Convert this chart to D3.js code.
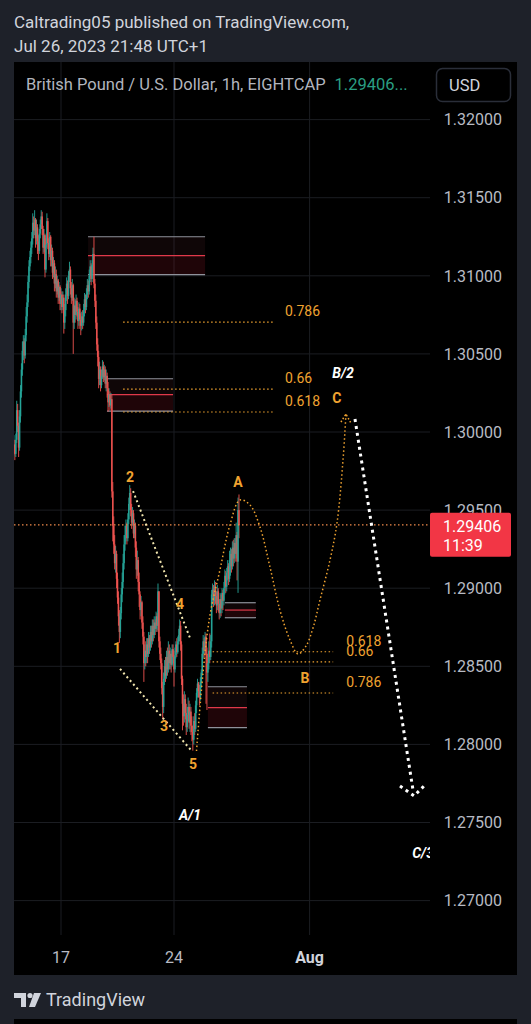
<!DOCTYPE html>
<html><head><meta charset="utf-8">
<script src="https://cdn.jsdelivr.net/npm/d3@7"></script>
<style>html,body{margin:0;padding:0;background:#1e2129;}svg{display:block}</style>
</head><body><svg id="c" width="531" height="1024"></svg>
<script>
// ---------------- data ----------------
const firstBar = -50;          // bar index of first candle (0 = Mon Jul 17 00:00)
const firstOpen = 1.2990;
const closes = [
1.2992,1.2986,1.2995,1.3014,1.3004,1.2990,1.3010,1.3026,1.3040,1.3052,
1.3058,1.3049,1.3062,1.3074,1.3083,1.3096,1.3106,1.3112,1.3118,1.3124,
1.3134,1.3129,1.3136,1.3124,1.3131,1.3122,1.3116,1.3127,1.3133,1.3138,
1.3130,1.3118,1.3126,1.3104,1.3120,1.3135,1.3121,1.3114,1.3125,1.3110,
1.3116,1.3102,1.3108,1.3095,1.3101,1.3090,1.3097,1.3086,1.3093,1.3082,
1.3088,1.3080,1.3086,1.3070,1.3078,1.3088,1.3095,1.3087,1.3100,1.3104,
1.3092,1.3086,1.3094,1.3070,1.3081,1.3075,1.3084,1.3077,1.3071,1.3079,
1.3072,1.3068,1.3074,1.3070,1.3078,1.3085,1.3080,1.3088,1.3094,1.3090,
1.3100,1.3106,1.3098,1.3107,1.3114,1.3095,1.3084,1.3070,1.3056,1.3048,
1.3034,1.3040,1.3030,1.3036,1.3042,1.3035,1.3040,1.3031,1.3036,1.3028,
1.3019,1.3024,1.3017,1.3021,1.2962,1.2940,1.2928,1.2916,1.2922,1.2906,
1.2894,1.2882,1.2872,1.2884,1.2896,1.2904,1.2916,1.2928,1.2934,1.2940,
1.2932,1.2944,1.2954,1.2961,1.2950,1.2942,1.2948,1.2935,1.2940,1.2926,
1.2912,1.2918,1.2904,1.2896,1.2886,1.2891,1.2878,1.2869,1.2852,1.2860,
1.2856,1.2864,1.2858,1.2868,1.2862,1.2872,1.2866,1.2876,1.2870,1.2878,
1.2874,1.2882,1.2876,1.2898,1.2866,1.2858,1.2852,1.2836,1.2824,1.2842,
1.2850,1.2844,1.2856,1.2848,1.2860,1.2852,1.2858,1.2851,1.2861,1.2856,
1.2848,1.2857,1.2864,1.2859,1.2866,1.2870,1.2876,1.2864,1.2842,1.2826,
1.2818,1.2829,1.2820,1.2811,1.2819,1.2824,1.2814,1.2821,1.2812,1.2808,
1.2803,1.2815,1.2810,1.2825,1.2833,1.2839,1.2834,1.2830,1.2840,1.2846,
1.2858,1.2866,1.2860,1.2869,1.2858,1.2846,1.2852,1.2860,1.2856,1.2866,
1.2896,1.2899,1.2892,1.2901,1.2895,1.2889,1.2898,1.2890,1.2884,1.2893,
1.2887,1.2897,1.2892,1.2900,1.2908,1.2901,1.2910,1.2914,1.2906,1.2918,
1.2922,1.2914,1.2926,1.2919,1.2929,1.2922,1.2934,1.2917,1.2950,1.29406];
const highs = [
1.2998,1.2995,1.2999,1.3020,1.3018,1.3006,1.3014,1.3030,1.3044,1.3058,
1.3062,1.3060,1.3066,1.3080,1.3088,1.3100,1.3110,1.3116,1.3122,1.3128,
1.3140,1.3138,1.3142,1.3137,1.3136,1.3133,1.3126,1.3130,1.3136,1.3142,
1.3141,1.3132,1.3130,1.3127,1.3124,1.3140,1.3137,1.3124,1.3128,1.3126,
1.3120,1.3118,1.3112,1.3110,1.3106,1.3104,1.3100,1.3098,1.3096,1.3094,
1.3092,1.3090,1.3090,1.3088,1.3082,1.3092,1.3099,1.3097,1.3103,1.3109,
1.3106,1.3096,1.3098,1.3095,1.3086,1.3085,1.3088,1.3086,1.3080,1.3083,
1.3082,1.3076,1.3077,1.3078,1.3082,1.3089,1.3088,1.3092,1.3098,1.3097,
1.3104,1.3110,1.3108,1.3110,1.3118,1.3125,1.3098,1.3088,1.3074,1.3060,
1.3052,1.3045,1.3042,1.3040,1.3046,1.3045,1.3043,1.3042,1.3040,1.3038,
1.3032,1.3028,1.3026,1.3025,1.3024,1.2968,1.2946,1.2934,1.2927,1.2924,
1.2910,1.2898,1.2886,1.2888,1.2900,1.2910,1.2922,1.2934,1.2940,1.2944,
1.2942,1.2948,1.2958,1.2966,1.2964,1.2954,1.2952,1.2950,1.2944,1.2942,
1.2930,1.2924,1.2920,1.2910,1.2898,1.2895,1.2892,1.2882,1.2872,1.2864,
1.2866,1.2868,1.2868,1.2872,1.2870,1.2876,1.2876,1.2880,1.2880,1.2882,
1.2880,1.2885,1.2884,1.2903,1.2898,1.2869,1.2862,1.2855,1.2840,1.2846,
1.2854,1.2856,1.2860,1.2862,1.2866,1.2864,1.2862,1.2860,1.2864,1.2864,
1.2860,1.2862,1.2866,1.2868,1.2869,1.2874,1.2880,1.2879,1.2866,1.2844,
1.2832,1.2834,1.2832,1.2826,1.2824,1.2830,1.2828,1.2826,1.2824,1.2818,
1.2812,1.2818,1.2820,1.2828,1.2836,1.2842,1.2840,1.2838,1.2843,1.2848,
1.2862,1.2870,1.2868,1.2872,1.2871,1.2862,1.2858,1.2866,1.2871,1.2870,
1.2899,1.2903,1.2902,1.2905,1.2904,1.2898,1.2902,1.2900,1.2893,1.2897,
1.2896,1.2900,1.2899,1.2904,1.2912,1.2911,1.2913,1.2918,1.2916,1.2924,
1.2926,1.2925,1.2930,1.2931,1.2932,1.2932,1.2942,1.2936,1.2958,1.2960];
const lows = [
1.2985,1.2982,1.2984,1.2993,1.3000,1.2984,1.2988,1.3006,1.3022,1.3036,
1.3046,1.3044,1.3047,1.3058,1.3070,1.3080,1.3092,1.3103,1.3108,1.3114,
1.3120,1.3124,1.3126,1.3118,1.3120,1.3114,1.3110,1.3114,1.3124,1.3130,
1.3126,1.3114,1.3115,1.3099,1.3102,1.3118,1.3117,1.3110,1.3112,1.3106,
1.3106,1.3098,1.3099,1.3090,1.3092,1.3086,1.3088,1.3082,1.3084,1.3078,
1.3078,1.3076,1.3078,1.3063,1.3066,1.3074,1.3084,1.3082,1.3085,1.3096,
1.3088,1.3082,1.3084,1.3050,1.3066,1.3070,1.3072,1.3074,1.3066,1.3068,
1.3066,1.3062,1.3065,1.3066,1.3068,1.3074,1.3076,1.3078,1.3085,1.3086,
1.3088,1.3096,1.3094,1.3096,1.3102,1.3092,1.3080,1.3066,1.3052,1.3042,
1.3028,1.3030,1.3026,1.3028,1.3034,1.3032,1.3033,1.3028,1.3026,1.3022,
1.3013,1.3016,1.3014,1.3015,1.2958,1.2930,1.2922,1.2912,1.2910,1.2900,
1.2890,1.2876,1.2865,1.2868,1.2880,1.2891,1.2900,1.2912,1.2924,1.2930,
1.2928,1.2930,1.2941,1.2950,1.2946,1.2938,1.2940,1.2932,1.2932,1.2920,
1.2906,1.2908,1.2898,1.2888,1.2880,1.2882,1.2874,1.2864,1.2840,1.2848,
1.2850,1.2852,1.2852,1.2856,1.2858,1.2860,1.2862,1.2864,1.2866,1.2868,
1.2870,1.2872,1.2872,1.2873,1.2862,1.2854,1.2848,1.2832,1.2816,1.2820,
1.2838,1.2840,1.2842,1.2844,1.2846,1.2848,1.2848,1.2846,1.2850,1.2852,
1.2837,1.2846,1.2855,1.2856,1.2858,1.2864,1.2866,1.2860,1.2838,1.2809,
1.2812,1.2814,1.2816,1.2806,1.2808,1.2815,1.2810,1.2808,1.2806,1.2802,
1.2796,1.2800,1.2806,1.2808,1.2820,1.2830,1.2830,1.2825,1.2828,1.2836,
1.2844,1.2855,1.2856,1.2858,1.2826,1.2822,1.2840,1.2848,1.2852,1.2854,
1.2862,1.2890,1.2888,1.2889,1.2890,1.2884,1.2886,1.2885,1.2880,1.2881,
1.2882,1.2884,1.2886,1.2889,1.2896,1.2897,1.2898,1.2905,1.2902,1.2904,
1.2908,1.2910,1.2912,1.2914,1.2916,1.2917,1.2919,1.2905,1.2897,1.2932];

const priceTicks = [1.27,1.275,1.28,1.285,1.29,1.295,1.30,1.305,1.31,1.315,1.32];
const timeTickBars = [0,120,264];
const timeTickLabels = ["17","24","Aug"];
const lastPrice = 1.29406;
const countdown = "11:39";

// zones: start bar, end bar, top, mid, bottom
const zoneStart = [28.7, 48.8, 174, 156];
const zoneEnd   = [153, 119, 207, 197.5];
const zoneTop   = [1.3125, 1.30341, 1.28907, 1.28369];
const zoneMid   = [1.31129, 1.30239, 1.2886, 1.28235];
const zoneBot   = [1.31007, 1.30134, 1.28811, 1.28107];

// fib retracements
const fibLabels = ["0.786","0.66","0.618"];
const upperFibPrices = [1.30704, 1.30275, 1.30128];
const upperFibBars = [66, 225];
const lowerFibLabels = ["0.618","0.66","0.786"];
const lowerFibPrices = [1.28593, 1.28528, 1.28329];
const lowerFibBars = [161, 289];

// wave labels
const waveText  = ["1","2","3","4","5","A","B","C"];
const waveBar   = [59.5, 73.3, 109.4, 126.4, 140.2, 188, 259, 293];
const wavePrice = [1.28617, 1.2971, 1.28118, 1.28899, 1.27875, 1.2968, 1.28425, 1.30218];
const degText  = ["B/2","A/1","C/3"];
const degBar   = [299.5, 137, 384.5];
const degPrice = [1.30378, 1.27548, 1.27305];

// channel lines (wave 2-4, wave 1-5)
const channel24Bars = [76.5, 137];  const channel24Prices = [1.29622, 1.28681];
const channel15Bars = [62.7, 138];  const channel15Prices = [1.28483, 1.27964];

// projected ABC path
const projBars = [143.9,150.8,158.2,168.8,179.4,190.0,200.7,211.3,221.9,232.5,243.2,251.7,260.2,267.6,275.0,285.7,293.1,299.5,302.6];
const projPrices = [1.27958,1.28457,1.28828,1.29117,1.29405,1.29565,1.29533,1.29392,1.29136,1.28860,1.28668,1.28579,1.28630,1.28745,1.28924,1.29181,1.29417,1.29821,1.30115];
const projArrowBars = [297.3, 302.6, 307.9]; const projArrowPrices = [1.30064, 1.30115, 1.30057];
// projected wave 3 drop
const dropBars = [312.2, 373.8]; const dropPrices = [1.30083, 1.27708];
const dropArrowBars = [360, 374.9, 386.5]; const dropArrowPrices = [1.27734, 1.2767, 1.2774];

// ---------------- drawing ----------------
const FONT = "Roboto, 'Noto Sans', sans-serif";
const svg = d3.select("#c");
const panel = {x0:14, x1:517, y0:62, y1:975};
const plot = {x0:14, x1:430, y0:62, y1:935};

const x = d3.scaleLinear().domain([0,120]).range([61,174]);
const y = d3.scaleLinear().domain([1.27,1.32]).range([900.6,119.6]);

svg.append("rect").attr("width",531).attr("height",1024).attr("fill","#1e2129");
svg.append("rect").attr("x",panel.x0).attr("y",panel.y0).attr("width",panel.x1-panel.x0).attr("height",panel.y1-panel.y0).attr("fill","#000");

// header
svg.append("text").attr("x",14).attr("y",28).attr("font-family",FONT).attr("font-size",17).attr("fill","#d1d4dc").text("Caltrading05 published on TradingView.com,");
svg.append("text").attr("x",14).attr("y",52).attr("font-family",FONT).attr("font-size",17).attr("fill","#d1d4dc").text("Jul 26, 2023 21:48 UTC+1");

svg.append("defs").append("clipPath").attr("id","plotclip").append("rect")
  .attr("x",plot.x0).attr("y",plot.y0).attr("width",plot.x1-plot.x0).attr("height",plot.y1-plot.y0);

const g = svg.append("g").attr("clip-path","url(#plotclip)");

// grid
const gridColor = "#1b1d22";
g.selectAll("line.hg").data(priceTicks).join("line").attr("class","hg")
  .attr("x1",plot.x0).attr("x2",plot.x1).attr("y1",d=>y(d)).attr("y2",d=>y(d))
  .attr("stroke",gridColor).attr("stroke-width",1);
g.selectAll("line.vg").data(timeTickBars).join("line").attr("class","vg")
  .attr("x1",d=>x(d)).attr("x2",d=>x(d)).attr("y1",plot.y0).attr("y2",plot.y1)
  .attr("stroke",gridColor).attr("stroke-width",1);

// zones
const zones = zoneStart.map((s,i)=>({s, e:zoneEnd[i], t:zoneTop[i], m:zoneMid[i], b:zoneBot[i]}));
zones.forEach(z=>{
  g.append("rect").attr("x",x(z.s)).attr("y",y(z.t)).attr("width",x(z.e)-x(z.s)).attr("height",y(z.m)-y(z.t)).attr("fill","rgba(150,60,70,0.10)");
  g.append("rect").attr("x",x(z.s)).attr("y",y(z.m)).attr("width",x(z.e)-x(z.s)).attr("height",y(z.b)-y(z.m)).attr("fill","rgba(170,30,45,0.18)");
  [[z.t,"#8f929b"],[z.m,"#e0394a"],[z.b,"#8f929b"]].forEach(([p,c])=>{
    g.append("line").attr("x1",x(z.s)).attr("x2",x(z.e)).attr("y1",y(p)).attr("y2",y(p)).attr("stroke",c).attr("stroke-width",1.2);
  });
});

// candles
const candles = closes.map((c,i)=>{
  const o = i===0 ? firstOpen : closes[i-1];
  return {bar:firstBar+i, o, c, h:Math.max(highs[i],o,c), l:Math.min(lows[i],o,c)};
});
const up = "#26a69a", dn = "#ef5350";
g.selectAll("line.wick").data(candles).join("line").attr("class","wick")
  .attr("x1",d=>x(d.bar)).attr("x2",d=>x(d.bar)).attr("y1",d=>y(d.h)).attr("y2",d=>y(d.l))
  .attr("stroke",d=>d.c>=d.o?up:dn).attr("stroke-width",1).attr("opacity",0.9);
g.selectAll("rect.body").data(candles).join("rect").attr("class","body")
  .attr("x",d=>x(d.bar)-0.8).attr("width",1.6)
  .attr("y",d=>y(Math.max(d.o,d.c))).attr("height",d=>Math.max(1,Math.abs(y(d.o)-y(d.c))))
  .attr("fill",d=>d.c>=d.o?up:dn).attr("opacity",0.9);

// fib lines
const orange = "#f0a330";
upperFibPrices.forEach((p,i)=>{
  g.append("line").attr("x1",x(upperFibBars[0])).attr("x2",x(upperFibBars[1])).attr("y1",y(p)).attr("y2",y(p))
    .attr("stroke",orange).attr("stroke-width",1.2).attr("stroke-dasharray","1.5 2.5");
  g.append("text").attr("x",x(upperFibBars[1])+12).attr("y",y(p)-11).attr("dy","0.35em")
    .attr("font-family",FONT).attr("font-size",14).attr("fill",orange).text(fibLabels[i]);
});
lowerFibPrices.forEach((p,i)=>{
  g.append("line").attr("x1",x(lowerFibBars[0])).attr("x2",x(lowerFibBars[1])).attr("y1",y(p)).attr("y2",y(p))
    .attr("stroke",orange).attr("stroke-width",1.2).attr("stroke-dasharray","1.5 2.5");
  g.append("text").attr("x",x(lowerFibBars[1])+13).attr("y",y(p)-11).attr("dy","0.35em")
    .attr("font-family",FONT).attr("font-size",14).attr("fill",orange).text(lowerFibLabels[i]);
});

// last price line
g.append("line").attr("x1",plot.x0).attr("x2",plot.x1).attr("y1",y(lastPrice)).attr("y2",y(lastPrice))
  .attr("stroke","#f08a4b").attr("stroke-width",1.2).attr("stroke-dasharray","1.5 2.5");

// channel lines
const pale = "#f2e6ae";
[[channel24Bars,channel24Prices],[channel15Bars,channel15Prices]].forEach(([b,p])=>{
  g.append("line").attr("x1",x(b[0])).attr("x2",x(b[1])).attr("y1",y(p[0])).attr("y2",y(p[1]))
    .attr("stroke",pale).attr("stroke-width",2).attr("stroke-dasharray","2 3");
});

// projected ABC
const proj = projBars.map((b,i)=>[x(b),y(projPrices[i])]);
g.append("path").attr("d",d3.line().curve(d3.curveCatmullRom.alpha(0.5))(proj))
  .attr("fill","none").attr("stroke",orange).attr("stroke-width",1.5).attr("stroke-dasharray","1.5 2.5");
g.append("path").attr("d",d3.line()(projArrowBars.map((b,i)=>[x(b),y(projArrowPrices[i])])))
  .attr("fill","none").attr("stroke",orange).attr("stroke-width",1.5).attr("stroke-dasharray","1.5 2");

// projected drop (white)
g.append("line").attr("x1",x(dropBars[0])).attr("x2",x(dropBars[1])).attr("y1",y(dropPrices[0])).attr("y2",y(dropPrices[1]))
  .attr("stroke","#ffffff").attr("stroke-width",3).attr("stroke-dasharray","3 4");
g.append("path").attr("d",d3.line()(dropArrowBars.map((b,i)=>[x(b),y(dropArrowPrices[i])])))
  .attr("fill","none").attr("stroke","#ffffff").attr("stroke-width",3).attr("stroke-dasharray","3 4");

// wave labels
waveText.forEach((t,i)=>{
  g.append("text").attr("x",x(waveBar[i])).attr("y",y(wavePrice[i])).attr("dy","0.35em").attr("text-anchor","middle")
    .attr("font-family",FONT).attr("font-size",14).attr("font-weight","bold").attr("fill",orange).text(t);
});
degText.forEach((t,i)=>{
  g.append("text").attr("x",x(degBar[i])).attr("y",y(degPrice[i])).attr("dy","0.35em").attr("text-anchor","middle")
    .attr("font-family",FONT).attr("font-size",14).attr("font-weight","bold").attr("font-style","italic").attr("fill","#ffffff").text(t);
});

// price axis labels
svg.selectAll("text.pt").data(priceTicks).join("text").attr("class","pt")
  .attr("x",502).attr("y",d=>y(d)).attr("dy","0.36em").attr("text-anchor","end")
  .attr("font-family",FONT).attr("font-size",16).attr("fill","#b8bbc4").text(d=>d.toFixed(5));

// last price badge
const by = y(lastPrice);
svg.append("rect").attr("x",430).attr("y",by-12).attr("width",81).attr("height",44).attr("rx",2).attr("fill","#f23645");
svg.append("text").attr("x",443).attr("y",by+1).attr("dy","0.36em").attr("font-family",FONT).attr("font-size",16).attr("fill","#fff").text(lastPrice.toFixed(5));
svg.append("text").attr("x",443).attr("y",by+20).attr("dy","0.36em").attr("font-family",FONT).attr("font-size",16).attr("fill","#fff").text(countdown);

// time axis labels
svg.selectAll("text.tt").data(timeTickBars).join("text").attr("class","tt")
  .attr("x",d=>x(d)).attr("y",957).attr("dy","0.36em").attr("text-anchor","middle")
  .attr("font-family",FONT).attr("font-size",16).attr("font-weight",(d,i)=>timeTickLabels[i]==="Aug"?"bold":"normal")
  .attr("fill",(d,i)=>timeTickLabels[i]==="Aug"?"#d1d4dc":"#b8bbc4").text((d,i)=>timeTickLabels[i]);

// legend row
const legend = svg.append("text").attr("x",26).attr("y",90).attr("font-family",FONT).attr("font-size",16.5).attr("fill","#b2b5be")
  .text("British Pound / U.S. Dollar, 1h, EIGHTCAP");
const lw = legend.node().getComputedTextLength();
svg.append("text").attr("x",26+lw+9).attr("y",90).attr("font-family",FONT).attr("font-size",16.5).attr("fill","#2a9e82")
  .text(lastPrice.toFixed(5)+"...");
svg.append("rect").attr("x",436.5).attr("y",68.5).attr("width",74).attr("height",33).attr("rx",6)
  .attr("fill","#000").attr("stroke","#2a2e39").attr("stroke-width",1.5);
svg.append("text").attr("x",449).attr("y",91).attr("font-family",FONT).attr("font-size",16.5).attr("fill","#d1d4dc").text("USD");

// footer
const logo = svg.append("g").attr("fill","#d1d4dc");
logo.append("path").attr("d","M14 993 h12 v14 h-5 v-9 h-7z");
logo.append("circle").attr("cx",30).attr("cy",995.5).attr("r",2.6);
logo.append("path").attr("d","M34 993 h7 l-6 14 h-6z");
svg.append("text").attr("x",46).attr("y",1006).attr("font-family",FONT).attr("font-size",18).attr("fill","#d1d4dc").text("TradingView");
svg.append("rect").attr("x",14).attr("y",1019).attr("width",503).attr("height",10).attr("fill","#000");
</script></body></html>
